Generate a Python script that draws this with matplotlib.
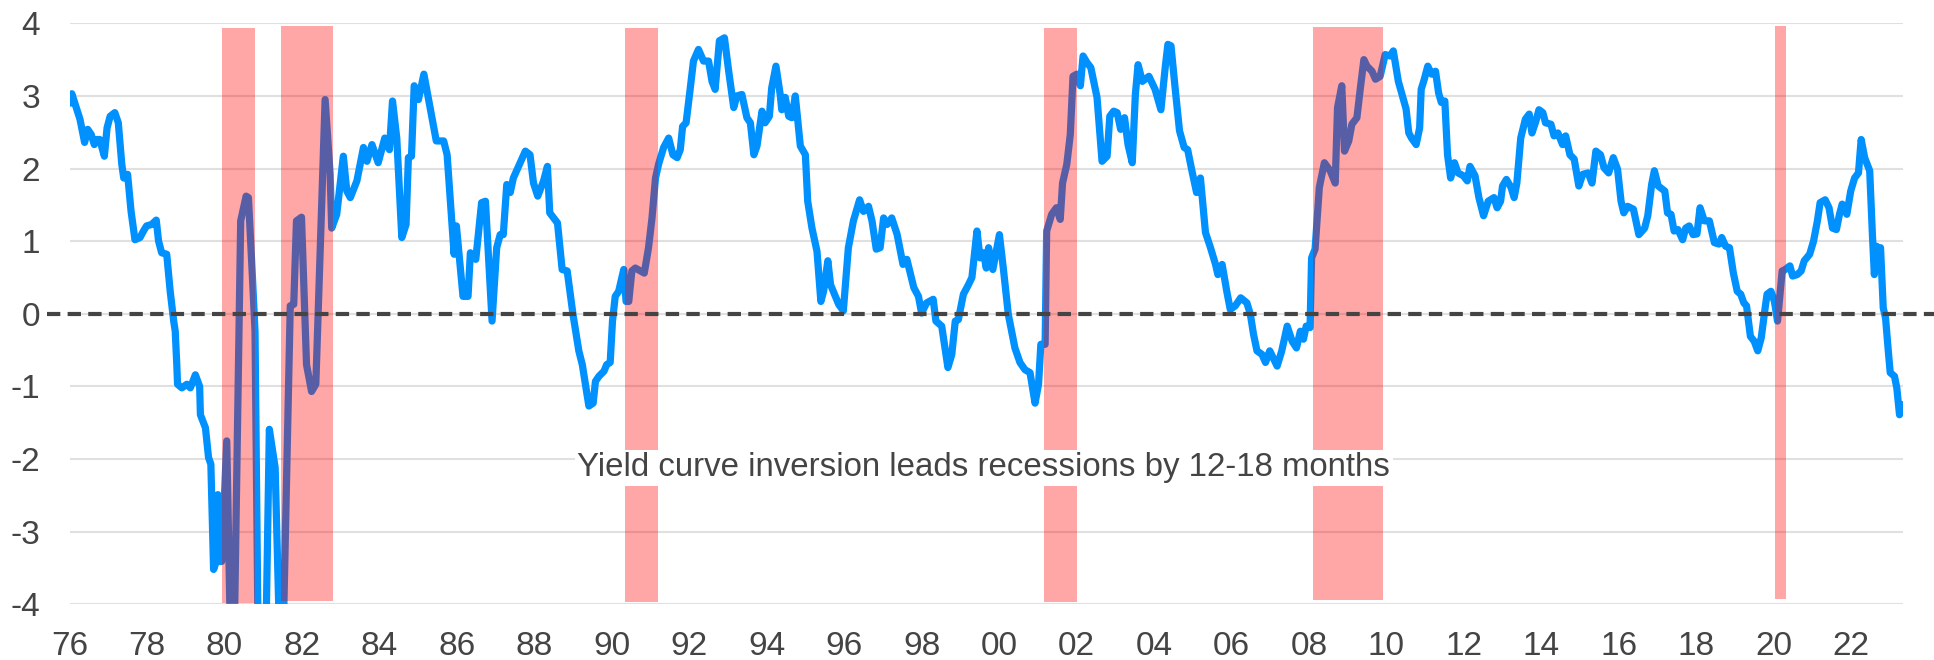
import matplotlib
matplotlib.use("Agg")
import matplotlib.pyplot as plt

# ---------------- data ----------------
dates = [
    1976.02, 1976.06, 1976.27, 1976.39, 1976.47, 1976.56, 1976.64, 1976.71, 1976.78, 1976.90,
    1976.97, 1977.05, 1977.17, 1977.26, 1977.35, 1977.40, 1977.50, 1977.59, 1977.69, 1977.82,
    1977.91, 1977.99, 1978.12, 1978.24, 1978.30, 1978.38, 1978.51, 1978.60, 1978.69, 1978.73,
    1978.77, 1978.79, 1978.90, 1979.03, 1979.12, 1979.25, 1979.36, 1979.38, 1979.51, 1979.59,
    1979.65, 1979.72, 1979.79, 1979.83, 1979.88, 1979.93, 1980.06, 1980.16, 1980.25, 1980.42,
    1980.56, 1980.62, 1980.72, 1980.79, 1980.87, 1981.07, 1981.16, 1981.31, 1981.42, 1981.52,
    1981.70, 1981.79, 1981.86, 1981.99, 1982.12, 1982.25, 1982.36, 1982.60, 1982.73, 1982.77,
    1982.90, 1983.07, 1983.16, 1983.25, 1983.42, 1983.59, 1983.68, 1983.81, 1983.97, 1984.14,
    1984.26, 1984.34, 1984.45, 1984.58, 1984.69, 1984.75, 1984.83, 1984.90, 1985.01, 1985.15,
    1985.31, 1985.47, 1985.66, 1985.75, 1985.93, 1985.99, 1986.16, 1986.29, 1986.35, 1986.49,
    1986.64, 1986.74, 1986.91, 1987.03, 1987.12, 1987.20, 1987.29, 1987.38, 1987.46, 1987.77,
    1987.89, 1987.98, 1988.09, 1988.24, 1988.34, 1988.40, 1988.60, 1988.72, 1988.85, 1989.00,
    1989.15, 1989.24, 1989.32, 1989.41, 1989.52, 1989.58, 1989.67, 1989.80, 1989.87, 1989.96,
    1990.02, 1990.09, 1990.18, 1990.31, 1990.37, 1990.44, 1990.52, 1990.61, 1990.74, 1990.84,
    1990.95, 1991.04, 1991.13, 1991.21, 1991.34, 1991.47, 1991.58, 1991.69, 1991.77, 1991.83,
    1991.92, 1992.02, 1992.11, 1992.24, 1992.37, 1992.50, 1992.59, 1992.67, 1992.78, 1992.91,
    1993.02, 1993.15, 1993.23, 1993.36, 1993.49, 1993.58, 1993.67, 1993.75, 1993.88, 1993.96,
    1994.07, 1994.13, 1994.24, 1994.35, 1994.39, 1994.48, 1994.57, 1994.65, 1994.74, 1994.82,
    1994.87, 1995.00, 1995.06, 1995.17, 1995.30, 1995.40, 1995.47, 1995.58, 1995.65, 1995.75,
    1995.86, 1995.98, 1996.11, 1996.24, 1996.40, 1996.50, 1996.63, 1996.72, 1996.83, 1996.93,
    1997.02, 1997.11, 1997.23, 1997.37, 1997.52, 1997.62, 1997.80, 1997.92, 1998.00, 1998.13,
    1998.30, 1998.37, 1998.52, 1998.68, 1998.78, 1998.87, 1998.95, 1999.08, 1999.21, 1999.30,
    1999.43, 1999.51, 1999.60, 1999.67, 1999.73, 1999.84, 2000.01, 2000.11, 2000.24, 2000.41,
    2000.54, 2000.67, 2000.80, 2000.93, 2001.02, 2001.08, 2001.19, 2001.23, 2001.36, 2001.48,
    2001.58, 2001.64, 2001.75, 2001.84, 2001.91, 2002.01, 2002.10, 2002.17, 2002.27, 2002.37,
    2002.53, 2002.66, 2002.79, 2002.86, 2002.96, 2003.05, 2003.14, 2003.24, 2003.33, 2003.44,
    2003.52, 2003.59, 2003.70, 2003.87, 2004.03, 2004.18, 2004.29, 2004.36, 2004.44, 2004.55,
    2004.66, 2004.78, 2004.87, 2004.98, 2005.10, 2005.20, 2005.33, 2005.46, 2005.59, 2005.65,
    2005.76, 2005.88, 2005.97, 2006.10, 2006.24, 2006.40, 2006.49, 2006.57, 2006.66, 2006.79,
    2006.88, 2006.99, 2007.18, 2007.30, 2007.44, 2007.57, 2007.68, 2007.78, 2007.86, 2007.93,
    2008.03, 2008.07, 2008.16, 2008.27, 2008.40, 2008.55, 2008.68, 2008.74, 2008.85, 2008.92,
    2009.03, 2009.11, 2009.24, 2009.33, 2009.42, 2009.50, 2009.63, 2009.72, 2009.84, 2009.97,
    2010.10, 2010.18, 2010.31, 2010.51, 2010.58, 2010.65, 2010.77, 2010.86, 2010.90, 2010.98,
    2011.07, 2011.17, 2011.27, 2011.35, 2011.42, 2011.51, 2011.58, 2011.66, 2011.76, 2011.85,
    2011.99, 2012.09, 2012.16, 2012.29, 2012.39, 2012.51, 2012.63, 2012.78, 2012.86, 2012.95,
    2013.00, 2013.10, 2013.22, 2013.30, 2013.37, 2013.47, 2013.59, 2013.69, 2013.76, 2013.86,
    2013.94, 2014.04, 2014.11, 2014.25, 2014.33, 2014.43, 2014.55, 2014.63, 2014.74, 2014.85,
    2014.97, 2015.07, 2015.21, 2015.31, 2015.41, 2015.53, 2015.62, 2015.74, 2015.86, 2015.97,
    2016.06, 2016.13, 2016.23, 2016.38, 2016.52, 2016.67, 2016.75, 2016.85, 2016.92, 2017.02,
    2017.19, 2017.26, 2017.35, 2017.43, 2017.53, 2017.65, 2017.73, 2017.82, 2017.92, 2018.02,
    2018.10, 2018.21, 2018.34, 2018.47, 2018.59, 2018.66, 2018.76, 2018.86, 2018.96, 2019.06,
    2019.15, 2019.23, 2019.30, 2019.35, 2019.40, 2019.50, 2019.59, 2019.68, 2019.78, 2019.83,
    2019.93, 2020.02, 2020.10, 2020.22, 2020.30, 2020.42, 2020.49, 2020.61, 2020.71, 2020.79,
    2020.93, 2021.03, 2021.13, 2021.20, 2021.33, 2021.43, 2021.52, 2021.62, 2021.70, 2021.77,
    2021.89, 2021.99, 2022.09, 2022.19, 2022.26, 2022.35, 2022.48, 2022.55, 2022.60, 2022.66,
    2022.71, 2022.76, 2022.83, 2022.89, 2022.96, 2023.01, 2023.12, 2023.18, 2023.25, 2023.31,
]
spread = [
    2.90, 3.03, 2.68, 2.36, 2.54, 2.47, 2.33, 2.40, 2.40, 2.17,
    2.56, 2.72, 2.77, 2.63, 2.06, 1.87, 1.92, 1.41, 1.02, 1.05,
    1.14, 1.21, 1.23, 1.29, 1.00, 0.84, 0.82, 0.31, -0.10, -0.24,
    -0.70, -0.97, -1.02, -0.97, -1.02, -0.84, -1.00, -1.39, -1.57, -1.98,
    -2.07, -3.52, -3.41, -2.49, -3.41, -3.41, -1.75, -4.60, -4.60, 1.28,
    1.62, 1.60, 0.54, -0.24, -4.50, -4.50, -1.59, -2.12, -4.40, -4.40,
    0.11, 0.13, 1.28, 1.33, -0.70, -1.07, -0.97, 2.95, 1.92, 1.18,
    1.37, 2.17, 1.69, 1.60, 1.83, 2.29, 2.10, 2.33, 2.08, 2.42,
    2.26, 2.93, 2.42, 1.05, 1.23, 2.15, 2.17, 3.14, 2.95, 3.30,
    2.84, 2.38, 2.38, 2.19, 0.82, 1.21, 0.24, 0.24, 0.84, 0.75,
    1.53, 1.55, -0.10, 0.91, 1.09, 1.09, 1.78, 1.67, 1.87, 2.24,
    2.19, 1.80, 1.62, 1.83, 2.03, 1.39, 1.25, 0.61, 0.59, -0.01,
    -0.51, -0.70, -0.97, -1.27, -1.23, -0.93, -0.86, -0.79, -0.70, -0.67,
    -0.10, 0.24, 0.31, 0.61, 0.17, 0.17, 0.59, 0.63, 0.59, 0.56,
    0.91, 1.32, 1.87, 2.06, 2.29, 2.42, 2.19, 2.15, 2.26, 2.58,
    2.63, 3.07, 3.48, 3.64, 3.48, 3.48, 3.20, 3.09, 3.76, 3.80,
    3.34, 2.84, 3.00, 3.02, 2.70, 2.63, 2.19, 2.31, 2.79, 2.63,
    2.72, 3.11, 3.41, 3.02, 2.81, 2.98, 2.72, 2.70, 3.00, 2.58,
    2.31, 2.19, 1.55, 1.18, 0.86, 0.17, 0.31, 0.73, 0.40, 0.27,
    0.13, 0.04, 0.91, 1.28, 1.57, 1.41, 1.48, 1.28, 0.89, 0.91,
    1.32, 1.23, 1.32, 1.09, 0.68, 0.75, 0.36, 0.24, 0.01, 0.15,
    0.20, -0.10, -0.17, -0.74, -0.56, -0.10, -0.08, 0.27, 0.40, 0.50,
    1.14, 0.77, 0.84, 0.63, 0.91, 0.61, 1.09, 0.63, -0.01, -0.47,
    -0.67, -0.77, -0.81, -1.23, -0.97, -0.42, -0.42, 1.14, 1.37, 1.46,
    1.30, 1.80, 2.06, 2.47, 3.27, 3.30, 3.14, 3.55, 3.46, 3.39,
    2.98, 2.10, 2.17, 2.72, 2.79, 2.77, 2.54, 2.70, 2.33, 2.08,
    3.02, 3.43, 3.20, 3.27, 3.09, 2.81, 3.39, 3.71, 3.69, 3.09,
    2.52, 2.29, 2.26, 1.97, 1.67, 1.87, 1.12, 0.91, 0.68, 0.54,
    0.68, 0.31, 0.06, 0.11, 0.22, 0.15, -0.01, -0.28, -0.51, -0.56,
    -0.67, -0.51, -0.72, -0.51, -0.17, -0.38, -0.47, -0.24, -0.35, -0.17,
    -0.19, 0.77, 0.89, 1.74, 2.08, 1.97, 1.80, 2.84, 3.14, 2.24,
    2.38, 2.61, 2.70, 3.11, 3.50, 3.41, 3.34, 3.23, 3.27, 3.57,
    3.55, 3.62, 3.20, 2.82, 2.49, 2.42, 2.33, 2.56, 3.09, 3.23,
    3.41, 3.30, 3.34, 3.04, 2.91, 2.93, 2.19, 1.87, 2.08, 1.94,
    1.90, 1.83, 2.03, 1.90, 1.60, 1.35, 1.55, 1.60, 1.46, 1.55,
    1.76, 1.85, 1.74, 1.60, 1.80, 2.42, 2.68, 2.75, 2.49, 2.65,
    2.81, 2.77, 2.63, 2.61, 2.45, 2.49, 2.33, 2.45, 2.19, 2.13,
    1.76, 1.92, 1.94, 1.80, 2.24, 2.19, 2.01, 1.94, 2.15, 1.99,
    1.55, 1.39, 1.48, 1.44, 1.09, 1.18, 1.35, 1.78, 1.97, 1.76,
    1.69, 1.39, 1.37, 1.14, 1.16, 1.02, 1.18, 1.21, 1.09, 1.10,
    1.46, 1.28, 1.28, 0.98, 0.96, 1.05, 0.93, 0.91, 0.56, 0.31,
    0.27, 0.15, 0.11, -0.10, -0.31, -0.38, -0.51, -0.33, 0.08, 0.27,
    0.31, 0.17, -0.10, 0.59, 0.61, 0.66, 0.52, 0.54, 0.59, 0.73,
    0.82, 1.00, 1.28, 1.53, 1.57, 1.46, 1.18, 1.16, 1.37, 1.51,
    1.37, 1.69, 1.87, 1.94, 2.40, 2.15, 1.97, 1.09, 0.54, 0.93,
    0.89, 0.91, 0.08, -0.06, -0.51, -0.81, -0.86, -1.02, -1.39, -1.25,
]

# recession periods (shaded bands)
rec_start = [1979.93, 1981.46, 1990.34, 2001.16, 2008.10, 2020.04]
rec_end = [1980.79, 1982.80, 1991.19, 2002.01, 2009.91, 2020.33]
rec_top = [3.93, 3.96, 3.94, 3.93, 3.95, 3.96]
rec_bottom = [-3.98, -3.95, -3.97, -3.97, -3.94, -3.93]

x_ticks = [1976, 1978, 1980, 1982, 1984, 1986, 1988, 1990, 1992, 1994, 1996, 1998,
           2000, 2002, 2004, 2006, 2008, 2010, 2012, 2014, 2016, 2018, 2020, 2022]
x_labels = ["76", "78", "80", "82", "84", "86", "88", "90", "92", "94", "96", "98",
            "00", "02", "04", "06", "08", "10", "12", "14", "16", "18", "20", "22"]
y_ticks = [-4, -3, -2, -1, 0, 1, 2, 3, 4]
y_labels = ["-4", "-3", "-2", "-1", "0", "1", "2", "3", "4"]

note = "Yield curve inversion leads recessions by 12-18 months"
note_x, note_y = 1999.61, -2.12

# ---------------- drawing ----------------
plt.rcParams['font.family'] = ['Liberation Sans', 'DejaVu Sans']
TXT = '#444444'

fig = plt.figure(figsize=(19.34, 6.60), dpi=100)
ax = fig.add_axes([69.5 / 1934, 55.7 / 660, (1903 - 69.5) / 1934, 581 / 660])

ax.set_xlim(1976, 2023.34)
ax.set_ylim(-4, 4)

for s in ax.spines.values():
    s.set_visible(False)

ax.set_yticks(y_ticks)
ax.set_yticklabels(y_labels)
ax.set_xticks(x_ticks)
ax.set_xticklabels(x_labels)
ax.tick_params(axis='both', length=0, labelsize=24, labelcolor=TXT)
ax.tick_params(axis='y', pad=21)
ax.tick_params(axis='x', pad=19)

ax.yaxis.grid(True, color='#e0e0e0', linewidth=1.5, zorder=0)
ax.xaxis.grid(False)
ax.set_axisbelow(True)

ax.plot(dates, spread, color='#0091ff', linewidth=5.2, zorder=2,
        solid_joinstyle='round', solid_capstyle='round')

widths = [e - s for s, e in zip(rec_start, rec_end)]
heights = [t - b for t, b in zip(rec_top, rec_bottom)]
ax.bar(rec_start, heights, width=widths, bottom=rec_bottom, align='edge',
       color='#ff0000', alpha=0.35, linewidth=0, zorder=3)

ax.axhline(0, xmin=-0.0123, xmax=1.017, color='#444444', linewidth=3,
           dashes=(3.2, 1.75), zorder=4, clip_on=False)

ax.text(note_x, note_y, note, ha='center', va='center', fontsize=23.8, color=TXT,
        zorder=5, bbox=dict(boxstyle='square,pad=0.08', facecolor='white',
                            edgecolor='none'))

fig.savefig('out.png', dpi=100, facecolor='white')
